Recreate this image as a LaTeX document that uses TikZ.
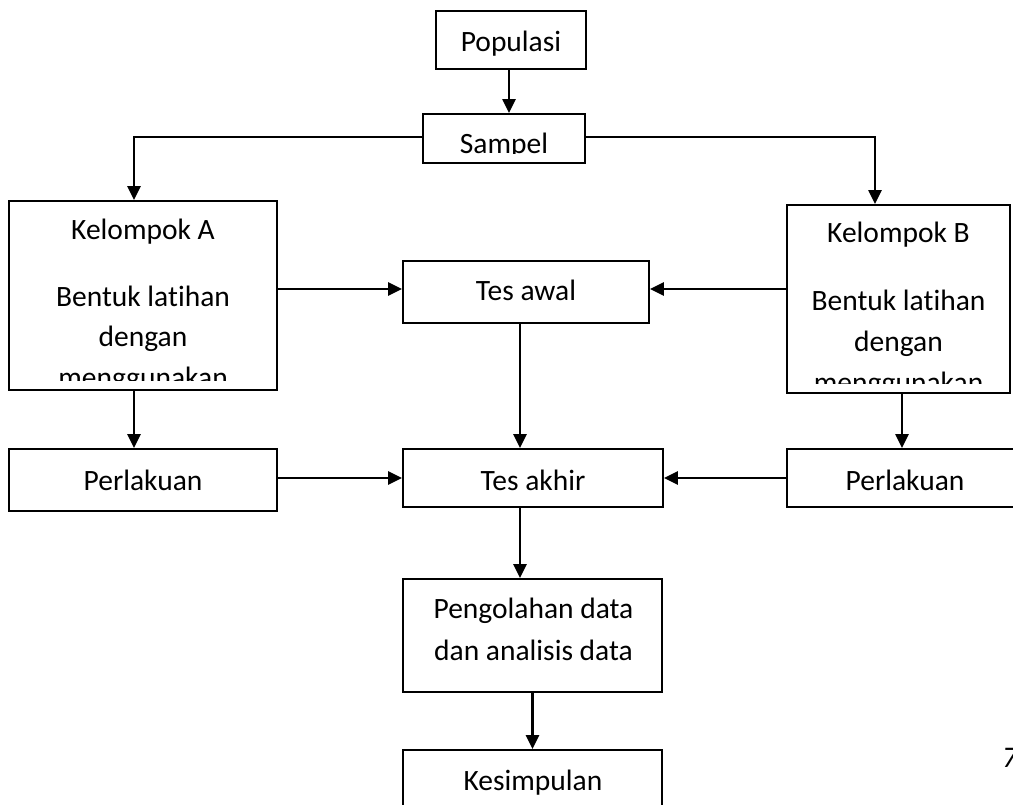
\documentclass[tikz,border=0pt]{standalone}
\usepackage{fontspec}
\setmainfont{Carlito}[Ligatures={NoCommon,NoContextual},RawFeature={-liga;-clig;-calt;-dlig}]
\usetikzlibrary{arrows.meta}
\begin{document}
\begin{tikzpicture}[x=1pt,y=-1pt,
  box/.style={draw=black,line width=1.8pt,rectangle,inner sep=0pt},
  arr/.style={line width=2.3pt,-{Triangle[length=14pt,width=13pt]}},
  txt/.style={anchor=base,inner sep=0pt,font=\fontsize{29.5}{41}\selectfont}]
\useasboundingbox (0,0) rectangle (1013,805);
% boxes
\node[box,minimum width=150,minimum height=58] (pop) at (511,40) {};
\node[box,minimum width=162,minimum height=49] (samp) at (504,138.5) {};
\node[box,minimum width=268,minimum height=189] (A) at (143,295.5) {};
\node[box,minimum width=223,minimum height=188] (B) at (898.5,299) {};
\node[box,minimum width=246,minimum height=62] (tawal) at (526,292) {};
\node[box,minimum width=268,minimum height=62] (pA) at (143,480) {};
\node[box,minimum width=260,minimum height=58] (takhir) at (533,478) {};
\node[box,minimum width=238,minimum height=58] (pB) at (906,478) {};
\node[box,minimum width=259,minimum height=113] (peng) at (532.5,635.5) {};
\node[box,minimum width=259,minimum height=70] (kes) at (532.5,785) {};
% texts
\node[txt] (tpop) at (511,52) {Populasi};
\begin{scope}
\clip (423,114) rectangle (585,154);
\node[txt] (tsamp) at (504,153.5) {Sampel};
\end{scope}
\node[txt] (tA1) at (143,240) {Kelompok A};
\node[txt] (tA2) at (143,307) {Bentuk latihan};
\node[txt] (tA3) at (143,347) {dengan};
\begin{scope}
\clip (9,300) rectangle (277,380);
\node[txt] (tA4) at (143,388) {menggunakan};
\end{scope}
\node[txt] (tB1) at (898.5,243) {Kelompok B};
\node[txt] (tB2) at (898.5,311) {Bentuk latihan};
\node[txt] (tB3) at (898.5,352) {dengan};
\begin{scope}
\clip (787,300) rectangle (1010,383);
\node[txt] (tB4) at (898.5,392) {menggunakan};
\end{scope}
\node[txt] (ttawal) at (526,301) {Tes awal};
\node[txt] (tpA) at (143,490) {Perlakuan};
\node[txt] (ttakhir) at (533,490) {Tes akhir};
\node[txt] (tpB) at (905,490) {Perlakuan};
\node[txt] (tpeng1) at (533.5,618) {Pengolahan data};
\node[txt] (tpeng2) at (533.5,660) {dan analisis data};
\node[txt] (tkes) at (533,790) {Kesimpulan};
\node[anchor=base west,inner sep=0pt,font=\fontsize{30}{36}\selectfont\itshape] (pg) at (1002,767) {7};
% helper coordinates
\coordinate (jA) at (134,0);
\coordinate (jB) at (875,0);
\coordinate (jB2) at (902,0);
\coordinate (jT) at (520,0);
\coordinate (yTA) at (0,289);
% connectors
\draw[arr] ([xshift=-2pt]pop.south) -- ([xshift=-2pt]pop.south |- samp.north);
\draw[arr] (samp.west |- 0,137) -| (jA |- A.north);
\draw[arr] (samp.east |- 0,137) -| (jB |- B.north);
\draw[arr] (A.east |- yTA) -- (tawal.west |- yTA);
\draw[arr] (B.west |- yTA) -- (tawal.east |- yTA);
\draw[arr] (jA |- A.south) -- (jA |- pA.north);
\draw[arr] (jT |- tawal.south) -- (jT |- takhir.north);
\draw[arr] (jB2 |- B.south) -- (jB2 |- pB.north);
\draw[arr] (pA.east |- takhir.east) -- (takhir.west);
\draw[arr] (pB.west) -- (takhir.east);
\draw[arr] (jT |- takhir.south) -- (jT |- peng.north);
\draw[arr] (peng.south) -- (kes.north);
\end{tikzpicture}
\end{document}
